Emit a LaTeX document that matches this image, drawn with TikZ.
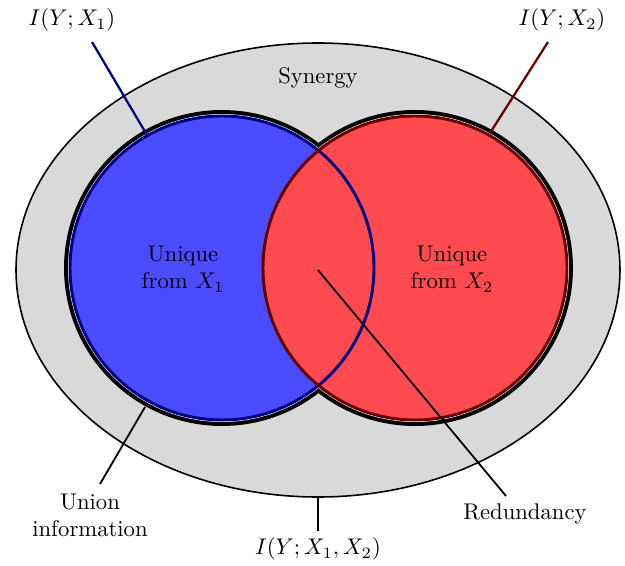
\documentclass[tikz,border=0pt]{standalone}
\usepackage{amsmath}
\usetikzlibrary{calc,positioning}
\definecolor{vennBlue}{HTML}{4B4BFF}
\definecolor{vennRed}{HTML}{FF4B4F}
\definecolor{vennNavy}{HTML}{000080}
\definecolor{vennMaroon}{HTML}{660000}
\definecolor{vennGrey}{HTML}{D9D9D9}

\begin{document}
\begin{tikzpicture}[
  x=0.0155cm, y=-0.0155cm,
  lbl/.style={align=center, inner sep=1pt},
  syn/.style={draw=black, fill=vennGrey, line width=0.7pt},
  rim/.style={draw=black, line width=3.5pt},
  blob/.style={fill=white},
  cb/.style={fill=vennBlue},
  cr/.style={fill=vennRed},
  eb/.style={draw=vennNavy, line width=1.3pt},
  er/.style={draw=vennMaroon, line width=1.3pt},
  ln/.style={draw=black, line width=0.8pt},
  lb/.style={draw=vennNavy, line width=1pt},
  lr/.style={draw=vennMaroon, line width=1pt}
]
\useasboundingbox (0,0) rectangle (625,566);

% ---- centres
\coordinate (c1)  at (222,268);
\coordinate (c2)  at (415,268);
\coordinate (mid) at (318,270);

% ---- synergy ellipse
\draw[syn] (318,270) ellipse [x radius=302, y radius=227];
\node[lbl] (syn) at (318,78) {Synergy};

% ---- union outline
\draw[rim] (c1) circle [radius=154];
\draw[rim] (c2) circle [radius=154];
\fill[blob] (c1) circle [radius=154];
\fill[blob] (c2) circle [radius=154];

% ---- the two sources
\fill[cb] (c1) circle [radius=152];
\fill[cr] (c2) circle [radius=152];
\draw[eb] (c1) circle [radius=152];
\draw[er] (c2) circle [radius=152];

\node[lbl] (u1) at (183,269) {Unique\\from $X_1$};
\node[lbl] (u2) at (452,269) {Unique\\from $X_2$};

% ---- labels
\node[lbl] (iy1)  at (72,20)   {$I(Y;X_1)$};
\node[lbl] (iy2)  at (562,20)  {$I(Y;X_2)$};
\node[lbl] (iy12) at (318,549) {$I(Y;X_1,X_2)$};
\node[lbl] (red)  at (525,514) {Redundancy};
\node[lbl] (uni)  at (90,515)  {Union\\information};

\coordinate (p1) at ($(c1)+(-75,-133)$);
\coordinate (t1) at (92,42);
\coordinate (p2) at ($(c2)+(75,-135)$);
\coordinate (t2) at (548,42);
\coordinate (pu) at (145,407);
\coordinate (tu) at (100,484);
\coordinate (pb) at (318,497);
\coordinate (tb) at (318,531);
\coordinate (tr) at (506,496);

\draw[lb] (t1) -- (p1);
\draw[lr] (t2) -- (p2);
\draw[ln] (tu) -- (pu);
\draw[ln] (pb) -- (tb);
\draw[ln] (mid) -- (tr);
\end{tikzpicture}
\end{document}
